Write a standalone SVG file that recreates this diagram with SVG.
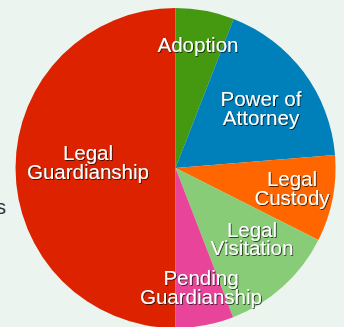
<svg xmlns="http://www.w3.org/2000/svg" width="344" height="327" viewBox="0 0 344 327">
<defs>
<filter id="sh" x="-20%" y="-40%" width="140%" height="180%">
<feDropShadow dx="0.8" dy="0.8" stdDeviation="0.6" flood-color="#000" flood-opacity="0.85"/>
</filter>
<style>
.lbl{font-family:"Liberation Sans",Arial,Helvetica,sans-serif;font-size:20.5px;fill:#fff;text-anchor:middle;filter:url(#sh)}
.ttl{font-family:"Liberation Sans",Arial,Helvetica,sans-serif;font-size:20px;fill:#333;text-anchor:end}
</style>
</defs>
<rect width="344" height="327" fill="#ebf4ee"/>
<text class="ttl" x="6" y="214">s</text>
<g id="legal-guardianship">
<path d="M175.5,168 L175.5,328 A160,160 0 0 1 175.5,8 Z" fill="#dd2200"/>
<text class="lbl" x="88" y="160">Legal</text>
<text class="lbl" x="88" y="178.5">Guardianship</text>
</g>
<g id="adoption">
<path d="M175.5,168 L175.5,8 A160,160 0 0 1 233.6,18.9 Z" fill="#449911"/>
</g>
<g id="power-of-attorney">
<path d="M175.5,168 L233.6,18.9 A160,160 0 0 1 335,154.9 Z" fill="#0080bb"/>
<text class="lbl" x="261" y="106">Power of</text>
<text class="lbl" x="261" y="124.5">Attorney</text>
</g>
<g id="legal-custody">
<path d="M175.5,168 L335,154.9 A160,160 0 0 1 318.4,239.9 Z" fill="#ff6600"/>
<text class="lbl" x="292" y="186">Legal</text>
<text class="lbl" x="292" y="204.5">Custody</text>
</g>
<g id="legal-visitation">
<path d="M175.5,168 L318.4,239.9 A160,160 0 0 1 233.1,317.3 Z" fill="#88cc77"/>
<text class="lbl" x="252" y="236.5">Legal</text>
<text class="lbl" x="252" y="255">Visitation</text>
</g>
<g id="pending-guardianship">
<path d="M175.5,168 L233.1,317.3 A160,160 0 0 1 175.5,328 Z" fill="#e8449a"/>
<text class="lbl" x="201" y="285">Pending</text>
<text class="lbl" x="201" y="303.5">Guardianship</text>
</g>
<g id="adoption-label">
<text class="lbl" x="198" y="51.5">Adoption</text>
</g>
<g id="connectors"/>
</svg>
